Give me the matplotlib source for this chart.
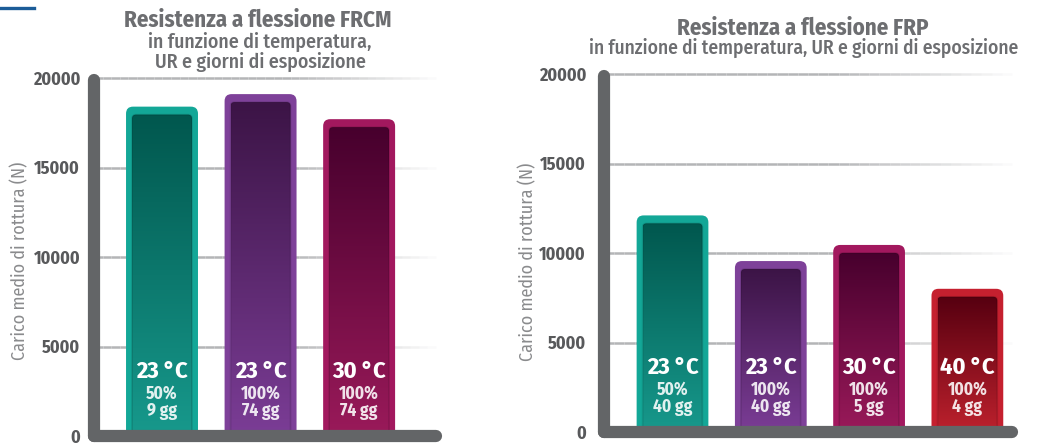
import numpy as np
import matplotlib
matplotlib.use("Agg")
import matplotlib.pyplot as plt
from matplotlib.patches import FancyBboxPatch
from matplotlib.colors import LinearSegmentedColormap
from matplotlib.lines import Line2D

plt.rcParams['font.family'] = ['Fira Sans Condensed', 'Open Sans', 'DejaVu Sans']

# FRCM
frcm_values = [18400, 19100, 17700]
frcm_temp = ["23 °C", "23 °C", "30 °C"]
frcm_ur = ["50%", "100%", "100%"]
frcm_days = ["9 gg", "74 gg", "74 gg"]

# FRP
frp_values = [12100, 9550, 10450, 8000]
frp_temp = ["23 °C", "23 °C", "30 °C", "40 °C"]
frp_ur = ["50%", "100%", "100%", "100%"]
frp_days = ["40 gg", "40 gg", "5 gg", "4 gg"]

yticks = [0, 5000, 10000, 15000, 20000]

# colori: bordo, interno scuro (alto), interno chiaro (basso)
TEAL = ("#13a797", "#01574e", "#17998c")
PURPLE = ("#7e4199", "#3c1446", "#7b3d96")
MAGENTA = ("#a2185e", "#47002d", "#9a1a5a")
RED = ("#c5202f", "#560010", "#bd212d")

AXIS_GREY = "#636567"
GRID_GREY = "#b4b5b7"
TEXT_GREY = "#6d6e71"

W, H = 1050, 445
fig = plt.figure(figsize=(W / 100, H / 100), dpi=100)


def fancy_bars(ax, values, colors, width=0.73):
    x = np.arange(len(values))
    bars = ax.bar(x, values, width=width)
    # px per unita' dati, per avere angoli arrotondati regolari
    p0 = ax.transData.transform((0, 0))
    p1 = ax.transData.transform((1, 1000))
    px_x = p1[0] - p0[0]
    px_y = (p1[1] - p0[1]) / 1000
    aspect = px_x / px_y
    for rect, (edge, dark, light) in zip(bars, colors):
        rect.set_visible(False)
        x0, w, h = rect.get_x(), rect.get_width(), rect.get_height()
        outer = FancyBboxPatch((x0, -400), w, h + 400,
                               boxstyle="round,pad=0,rounding_size=%f" % (7 / px_x),
                               mutation_aspect=aspect, fc=edge, ec="none", zorder=2)
        ax.add_patch(outer)
        ix = 6 / px_x
        iy = 8 / px_y
        inner = FancyBboxPatch((x0 + ix, -400), w - 2 * ix, h + 400 - iy,
                               boxstyle="round,pad=0,rounding_size=%f" % (4 / px_x),
                               mutation_aspect=aspect, fc="none", ec="none", zorder=3)
        ax.add_patch(inner)
        cmap = LinearSegmentedColormap.from_list("g", [light, dark])
        grad = np.linspace(0, 1, 256).reshape(-1, 1)
        im = ax.imshow(grad, extent=[x0 + ix, x0 + w - ix, 0, h - iy],
                       origin="lower", aspect="auto", cmap=cmap, zorder=3)
        im.set_clip_path(inner)
        # bordo interno leggermente piu' scuro
        shade = FancyBboxPatch((x0 + ix, -400), w - 2 * ix, h + 400 - iy,
                               boxstyle="round,pad=0,rounding_size=%f" % (4 / px_x),
                               mutation_aspect=aspect, fc="none", ec=(0, 0, 0, 0.12),
                               lw=1.2, zorder=3.5)
        ax.add_patch(shade)
    return x


def grid_fade(ax, y, x0, x1):
    # linea di griglia che sfuma verso destra
    n = 40
    xs = np.linspace(x0, x1, n + 1)
    for i in range(n):
        t = i / n
        a = 1.0 if t < 0.55 else max(0.0, 1 - (t - 0.55) / 0.45)
        ax.plot(xs[i:i + 2], [y, y], color=GRID_GREY, lw=1.8, alpha=a,
                solid_capstyle="butt", zorder=1, clip_on=False)


def setup(rect, values, colors, xmin, xmax, temp, ur, days, pad):
    ax = fig.add_axes(rect)
    ax.set_xlim(xmin, xmax)
    ax.set_ylim(0, 20000)
    for s in ax.spines.values():
        s.set_visible(False)
    ax.set_xticks([])
    ax.set_yticks(yticks)
    ax.set_yticklabels([str(v) for v in yticks], fontsize=13, fontweight="bold",
                       color="#58595b")
    ax.tick_params(axis="y", length=0, pad=pad)
    ax.patch.set_alpha(0)

    for v in yticks[1:]:
        grid_fade(ax, v, xmin, xmax)

    x = fancy_bars(ax, values, colors)
    ax.set_xlim(xmin, xmax)
    ax.set_ylim(0, 20000)

    # assi spessi grigi
    ax.plot([xmin, xmin], [0, 19900], color=AXIS_GREY, lw=8.8,
            solid_capstyle="round", zorder=5, clip_on=False)
    ax.plot([xmin, xmax], [0, 0], color=AXIS_GREY, lw=8.8,
            solid_capstyle="round", zorder=5, clip_on=False)

    for xi, t, u, d in zip(x, temp, ur, days):
        ax.annotate(t, (xi, 0), xytext=(0, 65), textcoords="offset pixels",
                    ha="center", va="center", fontsize=17.5, fontweight="bold",
                    color="white", zorder=6)
        ax.annotate(u, (xi, 0), xytext=(0, 43), textcoords="offset pixels",
                    ha="center", va="center", fontsize=12.5, fontweight="bold",
                    color="white", alpha=0.88, zorder=6)
        ax.annotate(d, (xi, 0), xytext=(0, 25), textcoords="offset pixels",
                    ha="center", va="center", fontsize=12.5, fontweight="bold",
                    color="white", alpha=0.88, zorder=6)
    return ax


setup([94 / W, 9 / H, 342 / W, 358 / H], frcm_values, [TEAL, PURPLE, MAGENTA],
      -0.690, 2.78, frcm_temp, frcm_ur, frcm_days, pad=10)
setup([604 / W, 13 / H, 408 / W, 358 / H], frp_values, [TEAL, PURPLE, MAGENTA, RED],
      -0.697, 3.454, frp_temp, frp_ur, frp_days, pad=13)

# titoli
fig.text(258 / W, 1 - 20 / H, "Resistenza a flessione FRCM", ha="center", va="center",
         fontsize=16.5, fontweight="bold", color=TEXT_GREY)
fig.text(260 / W, 1 - 42 / H, "in funzione di temperatura,", ha="center", va="center",
         fontsize=14.3, fontweight="medium", color=TEXT_GREY)
fig.text(260 / W, 1 - 62 / H, "UR e giorni di esposizione", ha="center", va="center",
         fontsize=14.3, fontweight="medium", color=TEXT_GREY)
fig.text(803 / W, 1 - 28 / H, "Resistenza a flessione FRP", ha="center", va="center",
         fontsize=16.5, fontweight="bold", color=TEXT_GREY)
fig.text(804 / W, 1 - 48 / H, "in funzione di temperatura, UR e giorni di esposizione",
         ha="center", va="center", fontsize=14, fontweight="medium", color=TEXT_GREY)

fig.text(20 / W, 1 - 261 / H, "Carico medio di rottura (N)", rotation=90,
         ha="center", va="center", fontsize=13, color="#8a8b8d")
fig.text(528 / W, 1 - 262 / H, "Carico medio di rottura (N)", rotation=90,
         ha="center", va="center", fontsize=13, color="#8a8b8d")

# filetto blu in alto a sinistra
fig.add_artist(Line2D([0, 34 / W], [1 - 8 / H, 1 - 8 / H], color="#1b5c98", lw=2.4))

fig.savefig("out.png", dpi=100)
